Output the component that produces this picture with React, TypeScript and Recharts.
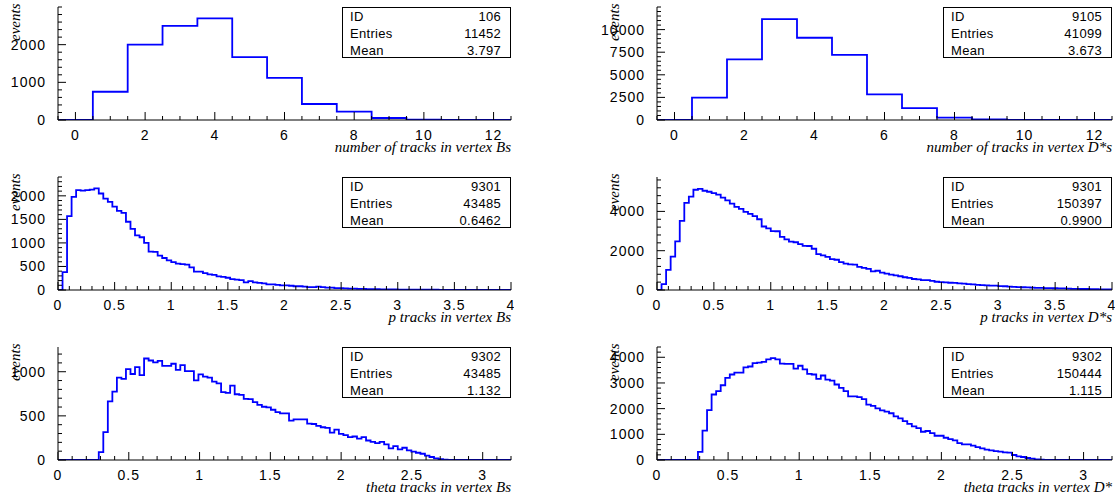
import React from 'react';
import { LineChart, Line, XAxis, YAxis } from 'recharts';

// ---------- data ----------
// number of tracks in vertex Bs (bins centred on integers 0..12)
const tracksBsCounts = [0, 750, 2000, 2500, 2700, 1670, 1120, 425, 220, 53, 10, 3, 0];
// number of tracks in vertex D*s
const tracksDsCounts = [0, 2480, 6700, 11150, 9100, 7200, 2830, 1320, 260, 60, 15, 5, 0];

// p tracks in vertex Bs (100 bins, 0..4)
const pBsCounts = [
  0, 380, 1570, 1980, 2120, 2110, 2120, 2130, 2160, 2050,
  1940, 1870, 1770, 1680, 1640, 1450, 1300, 1160, 1120, 1000,
  815, 810, 730, 680, 630, 590, 560, 550, 540, 480,
  390, 390, 360, 330, 320, 290, 280, 260, 230, 220,
  210, 160, 190, 160, 150, 140, 120, 120, 110, 100,
  100, 90, 80, 80, 70, 60, 60, 70, 60, 50,
  50, 40, 40, 35, 30, 30, 25, 25, 20, 20,
  20, 15, 15, 12, 12, 10, 10, 8, 8, 7,
  6, 6, 5, 5, 4, 4, 3, 3, 3, 2,
  2, 2, 2, 1, 1, 1, 1, 1, 0, 0,
];
// p tracks in vertex D*s (100 bins, 0..4)
const pDsCounts = [
  0, 300, 1020, 1700, 2470, 3520, 4430, 4750, 5100, 5150,
  5050, 5000, 4930, 4850, 4700, 4560, 4400, 4230, 4130, 3980,
  3870, 3760, 3600, 3230, 3140, 3000, 2990, 2700, 2580, 2460,
  2430, 2330, 2250, 2240, 2100, 1830, 1760, 1690, 1570, 1540,
  1420, 1340, 1300, 1290, 1180, 1130, 1080, 950, 980, 880,
  830, 780, 740, 700, 650, 620, 560, 540, 500, 500,
  460, 420, 400, 390, 370, 360, 340, 320, 300, 290,
  260, 250, 240, 220, 220, 200, 190, 170, 160, 150,
  140, 130, 120, 110, 110, 100, 100, 90, 80, 80,
  70, 60, 60, 50, 50, 40, 40, 30, 30, 30,
];
// theta tracks in vertex Bs (100 bins, 0..3.2)
const thetaBsCounts = [
  0, 0, 0, 0, 0, 0, 0, 0, 0,
  90, 315, 663, 775, 933, 918, 1030, 974, 1052, 962,
  1150, 1127, 1105, 1123, 1067, 1067, 1090, 1022, 1075, 1007,
  1007, 902, 970, 944, 933, 888, 869, 768, 760, 843,
  745, 738, 693, 689, 655, 625, 603, 595, 569, 543,
  528, 528, 446, 461, 461, 461, 412, 408, 386, 371,
  363, 311, 345, 296, 281, 258, 266, 243, 258, 221,
  206, 191, 206, 176, 131, 157, 120, 139, 109, 94,
  82, 71, 49, 34, 19, 11, 4,
  0, 0, 0, 0, 0, 0, 0, 0, 0, 0, 0, 0, 0, 0,
];
// theta tracks in vertex D* (100 bins, 0..3.2)
const thetaDsCounts = [
  0, 0, 0, 0, 0, 0, 0, 0, 0,
  320, 1140, 1940, 2550, 2680, 2910, 3200, 3330, 3400, 3400,
  3610, 3640, 3770, 3790, 3820, 3920, 3970, 3920, 3750, 3740,
  3740, 3560, 3670, 3530, 3350, 3330, 3160, 3290, 3130, 3090,
  2940, 2810, 2680, 2480, 2480, 2450, 2370, 2160, 2110, 2010,
  1930, 1880, 1820, 1700, 1620, 1510, 1410, 1310, 1240, 1100,
  1130, 1050, 945, 945, 867, 815, 763, 660, 608, 608,
  556, 505, 453, 401, 375, 349, 324, 298, 285, 194,
  142, 116, 78, 52, 26, 13, 5,
  0, 0, 0, 0, 0, 0, 0, 0, 0, 0, 0, 0, 0, 0,
];

// tick labels
const tracksXTicks = [0, 2, 4, 6, 8, 10, 12];
const pXTicks = [0, 0.5, 1, 1.5, 2, 2.5, 3, 3.5, 4];
const thetaXTicks = [0, 0.5, 1, 1.5, 2, 2.5, 3];
const tracksBsYTicks = [0, 1000, 2000];
const tracksDsYTicks = [0, 2500, 5000, 7500, 10000];
const pBsYTicks = [0, 500, 1000, 1500, 2000];
const pDsYTicks = [0, 2000, 4000];
const thetaBsYTicks = [0, 500, 1000];
const thetaDsYTicks = [0, 1000, 2000, 3000, 4000];

// axis titles
const titles = [
  'number of tracks in vertex Bs',
  'number of tracks in vertex D*s',
  'p tracks in vertex Bs',
  'p tracks in vertex D*s',
  'theta tracks in vertex Bs',
  'theta tracks in vertex D*',
];

// statistics boxes
const statLabels = ['ID', 'Entries', 'Mean'];
const statIds = ['106', '9105', '9301', '9301', '9302', '9302'];
const statEntries = ['11452', '41099', '43485', '150397', '43485', '150444'];
const statMeans = ['3.797', '3.673', '0.6462', '0.9900', '1.132', '1.115'];

// ---------- drawing ----------
const SANS = '"Liberation Sans", Arial, Helvetica, sans-serif';
const SERIF = '"Liberation Serif", "Times New Roman", serif';
const YW = 58;
const MT = 7;
const XH = 45;
const MR = 3;
const H = 113;

const rnd = (v: number) => Math.round(v * 1e6) / 1e6;
function makeTicks(lo: number, hi: number, step: number) {
  const out: number[] = [];
  const start = Math.ceil(rnd(lo / step)) * step;
  const n = Math.floor(rnd((hi - start) / step));
  for (let i = 0; i <= n; i++) out.push(rnd(start + i * step));
  return out;
}
const isMajor = (majors: number[], v: number) => majors.some((m) => Math.abs(m - v) < 1e-6);

type PanelProps = {
  left: number;
  top: number;
  w: number;
  counts: number[];
  lo: number;
  bw: number;
  xMax: number;
  yMax: number;
  xMajor: number[];
  xStep: number;
  yMajor: number[];
  yStep: number;
  idx: number;
};

function Panel(p: PanelProps) {
  const data = p.counts.map((c, i) => ({ x: rnd(p.lo + i * p.bw), y: c }));
  data.push({ x: rnd(p.lo + p.counts.length * p.bw), y: p.counts[p.counts.length - 1] });
  const cw = YW + p.w + MR;
  const ch = MT + H + XH;
  const xTicks = makeTicks(p.lo, p.xMax, p.xStep);
  const yTicks = makeTicks(0, p.yMax, p.yStep);

  const xTick = (props: any) => {
    const { x, y, payload } = props;
    const v = payload.value;
    const major = isMajor(p.xMajor, v);
    return (
      <g>
        <line x1={x} y1={y} x2={x} y2={y - (major ? 8 : 4)} stroke="#000" strokeWidth={1} />
        {major && (
          <text x={x} y={y + 20} textAnchor="middle" fontFamily={SANS} fontSize={14} letterSpacing={1} fill="#000">
            {String(v)}
          </text>
        )}
      </g>
    );
  };
  const yTick = (props: any) => {
    const { x, y, payload } = props;
    const v = payload.value;
    const major = isMajor(p.yMajor, v);
    return (
      <g>
        <line x1={x} y1={y} x2={x + (major ? 8 : 4)} y2={y} stroke="#000" strokeWidth={1} />
        {major && (
          <text x={x - 12} y={y} dy="0.36em" textAnchor="end" fontFamily={SANS} fontSize={14} letterSpacing={1} fill="#000">
            {String(v)}
          </text>
        )}
      </g>
    );
  };

  return (
    <div style={{ position: 'absolute', left: p.left - YW, top: p.top - MT, width: cw, height: ch }}>
      <LineChart width={cw} height={ch} data={data} margin={{ top: MT, right: MR, bottom: 0, left: 0 }}>
        <XAxis
          dataKey="x"
          type="number"
          domain={[p.lo, p.xMax]}
          allowDataOverflow
          ticks={xTicks}
          interval={0}
          tick={xTick}
          tickLine={false}
          tickSize={0}
          tickMargin={0}
          height={XH}
          axisLine={{ stroke: '#000', strokeWidth: 1 }}
        />
        <XAxis
          xAxisId="top"
          orientation="top"
          type="number"
          domain={[p.lo, p.xMax]}
          allowDataOverflow
          tick={false}
          tickLine={false}
          height={0}
          axisLine={{ stroke: '#000', strokeWidth: 1 }}
        />
        <YAxis
          type="number"
          domain={[0, p.yMax]}
          allowDataOverflow
          ticks={yTicks}
          interval={0}
          tick={yTick}
          tickLine={false}
          tickSize={0}
          tickMargin={0}
          width={YW}
          axisLine={{ stroke: '#000', strokeWidth: 1 }}
        />
        <YAxis
          yAxisId="right"
          orientation="right"
          type="number"
          domain={[0, p.yMax]}
          allowDataOverflow
          tick={false}
          tickLine={false}
          width={0}
          axisLine={{ stroke: '#000', strokeWidth: 1 }}
        />
        <Line
          type="stepAfter"
          dataKey="y"
          stroke="#0000ff"
          strokeWidth={1.8}
          dot={false}
          activeDot={false}
          isAnimationActive={false}
        />
      </LineChart>
      <svg width={cw} height={ch} style={{ position: 'absolute', left: 0, top: 0, pointerEvents: 'none' }}>
        <text
          transform={`translate(${YW - 38}, ${MT - 3.5}) rotate(-90)`}
          textAnchor="end"
          fontFamily={SERIF}
          fontStyle="italic"
          fontSize={15}
          fill="#000"
        >
          events
        </text>
        <text
          x={YW + p.w}
          y={MT + H + 32}
          textAnchor="end"
          fontFamily={SERIF}
          fontStyle="italic"
          fontSize={15}
          fill="#000"
        >
          {titles[p.idx]}
        </text>
      </svg>
      <div
        style={{
          position: 'absolute',
          left: YW + p.w - 169,
          top: MT,
          width: 169,
          height: 51,
          boxSizing: 'border-box',
          border: '1px solid #000',
          background: '#fff',
          padding: '0 9px 0 7px',
          fontFamily: SANS,
          fontSize: 13,
          letterSpacing: 0.3,
          lineHeight: '17px',
          color: '#000',
        }}
      >
        {[statIds[p.idx], statEntries[p.idx], statMeans[p.idx]].map((val, i) => (
          <div key={i} style={{ display: 'flex', justifyContent: 'space-between' }}>
            <span>{statLabels[i]}</span>
            <span>{val}</span>
          </div>
        ))}
      </div>
    </div>
  );
}

export default function App() {
  return (
    <div style={{ position: 'absolute', left: 0, top: 0, width: 1116, height: 502, overflow: 'hidden', background: '#fff' }}>
      <Panel idx={0} left={58} top={7} w={453} counts={tracksBsCounts} lo={-0.5} bw={1} xMax={12.5} yMax={3000}
        xMajor={tracksXTicks} xStep={0.5} yMajor={tracksBsYTicks} yStep={200} />
      <Panel idx={1} left={657} top={7} w={455} counts={tracksDsCounts} lo={-0.5} bw={1} xMax={12.5} yMax={12500}
        xMajor={tracksXTicks} xStep={0.5} yMajor={tracksDsYTicks} yStep={500} />
      <Panel idx={2} left={58} top={177} w={453} counts={pBsCounts} lo={0} bw={0.04} xMax={4} yMax={2400}
        xMajor={pXTicks} xStep={0.1} yMajor={pBsYTicks} yStep={100} />
      <Panel idx={3} left={657} top={177} w={455} counts={pDsCounts} lo={0} bw={0.04} xMax={4} yMax={5750}
        xMajor={pXTicks} xStep={0.1} yMajor={pDsYTicks} yStep={400} />
      <Panel idx={4} left={58} top={347} w={453} counts={thetaBsCounts} lo={0} bw={0.032} xMax={3.2} yMax={1280}
        xMajor={thetaXTicks} xStep={0.1} yMajor={thetaBsYTicks} yStep={100} />
      <Panel idx={5} left={657} top={347} w={455} counts={thetaDsCounts} lo={0} bw={0.032} xMax={3.2} yMax={4400}
        xMajor={thetaXTicks} xStep={0.1} yMajor={thetaDsYTicks} yStep={200} />
    </div>
  );
}
